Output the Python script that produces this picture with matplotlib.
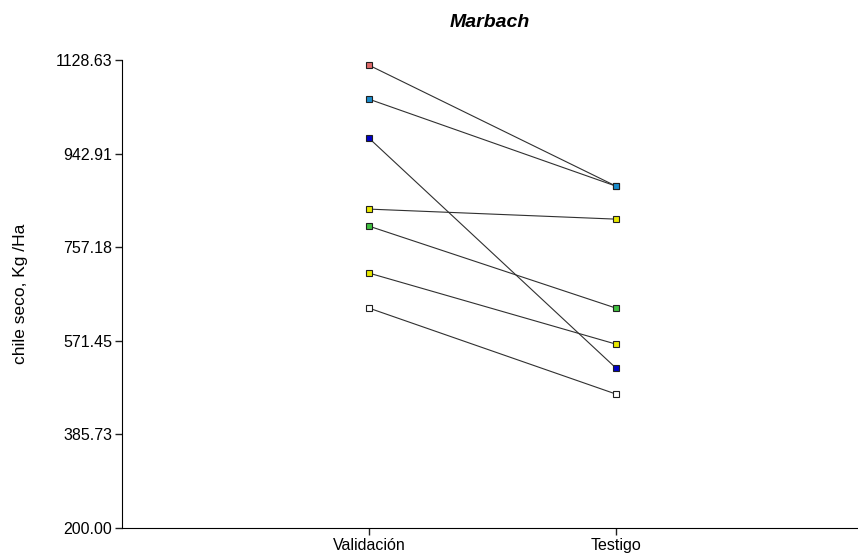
import matplotlib.pyplot as plt

plt.rcParams["font.family"] = ["Liberation Sans", "DejaVu Sans"]

groups = ["Validación", "Testigo"]
validacion = [1118.6, 1051.2, 973.8, 833.0, 799.2, 706.0, 636.5]
testigo = [878.6, 878.6, 517.5, 813.1, 636.5, 565.0, 465.9]
colores = ["#e06a6a", "#1a8ccc", "#0000c8", "#e8e800", "#40c040", "#e8e800", "#ffffff"]
yticks = [200.00, 385.73, 571.45, 757.18, 942.91, 1128.63]

fig = plt.figure(figsize=(8.58, 5.57), dpi=100)
ax = fig.add_axes([0.1422, 0.052, 0.8578, 0.840])

xs = [1, 2]
for v, t, c in zip(validacion, testigo, colores):
    ax.plot(xs, [v, t], color="#303030", lw=0.8, zorder=2)
    ax.plot(xs, [v, t], ls="none", marker="s", ms=4.5, mfc=c, mec="#202020",
            mew=0.8, zorder=3)

ax.set_xlim(0, 2.98)
ax.set_ylim(200, 1128.63)
ax.set_xticks(xs)
ax.set_xticklabels(groups, fontsize=11.5)
ax.set_yticks(yticks)
ax.set_yticklabels([f"{v:.2f}" for v in yticks], fontsize=11.5)
ax.spines["top"].set_visible(False)
ax.spines["right"].set_visible(False)
ax.tick_params(length=5, width=1, color="#202020", pad=2)
ax.set_ylabel("chile seco, Kg /Ha", fontsize=12.5, labelpad=20)
ax.set_title("Marbach", fontsize=14, fontweight="bold", style="italic", pad=24)

fig.savefig("out.png", dpi=100)
